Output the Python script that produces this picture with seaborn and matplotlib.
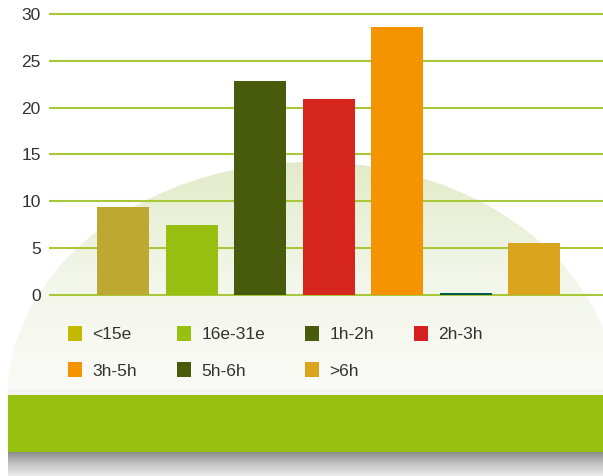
import numpy as np
import pandas as pd
import matplotlib
matplotlib.use("Agg")
import matplotlib.pyplot as plt
from matplotlib.patches import Ellipse, Rectangle, Patch
from matplotlib.colors import LinearSegmentedColormap
import seaborn as sns

# ---- data ----
categories = ["<15e", "16e-31e", "1h-2h", "2h-3h", "3h-5h", "5h-6h", ">6h"]
values = [9.4, 7.5, 22.9, 20.9, 28.6, 0.25, 5.6]
bar_colors = ["#BDA832", "#97BE10", "#485A0C", "#D6251D", "#F39400", "#00584F", "#DAA41C"]
legend_colors = ["#C4B900", "#98C010", "#485A0C", "#D62020", "#F39400", "#485A0C", "#DAA41C"]
y_ticks = [0, 5, 10, 15, 20, 25, 30]

sns.set_theme(style="white")
plt.rcParams["font.family"] = ["Liberation Sans", "DejaVu Sans"]

W, H = 603, 476
fig = plt.figure(figsize=(W / 100, H / 100), dpi=100)
fig.patch.set_facecolor("white")

# ---- background decoration ----
bg = fig.add_axes([0, 0, 1, 1], zorder=0)
bg.axis("off")

grad = np.linspace(0, 1, 256).reshape(-1, 1)
cmap_bg = LinearSegmentedColormap.from_list("bgc", ["#E2EBC8", "#F3F6EA", "#FBFBF8"])
img = bg.imshow(grad, extent=[0, W, 400, 160], aspect="auto", cmap=cmap_bg, zorder=1)
ell = Ellipse((312, 400), 2 * 305, 2 * 238, transform=bg.transData, facecolor="none", edgecolor="none")
bg.add_patch(ell)
img.set_clip_path(ell)

# light fade above the green band
bg.add_patch(Rectangle((8, 389), W - 8, 7, facecolor="#F4F4F2", edgecolor="none", zorder=2))

# shadow below green band
cmap_sh = LinearSegmentedColormap.from_list("sh", ["#8C8C8C", "#C4C4C4", "#EBEBEB"])
bg.imshow(grad, extent=[8, W, 476, 452], aspect="auto", cmap=cmap_sh, zorder=2)
bg.add_patch(Rectangle((8, 395), W - 8, 57, facecolor="#97BF0F", edgecolor="none", zorder=3))
bg.set_xlim(0, W)
bg.set_ylim(H, 0)

# ---- main bar axes ----
left_px, right_px = 49, 603
ylo, yhi = -0.25, 30.3
ppu = 281 / 30.0
bot_px = 295 + (0 - ylo) * ppu
top_px = 14 - (yhi - 30) * ppu
ax = fig.add_axes([left_px / W, 1 - bot_px / H, (right_px - left_px) / W, (bot_px - top_px) / H], zorder=1)
ax.patch.set_alpha(0)

df = pd.DataFrame({"category": categories, "value": values})
sns.barplot(data=df, x="category", y="value", hue="category", palette=bar_colors,
            order=categories, hue_order=categories, width=0.76, legend=False,
            saturation=1, ax=ax, zorder=3, edgecolor="none", linewidth=0)

ax.set_xlim(-1.08, 7.0)
ax.set_ylim(ylo, yhi)
ax.set_yticks(y_ticks)
ax.set_yticklabels([str(t) for t in y_ticks], fontsize=12.5, color="#333333")
ax.set_xticks([])
ax.set_xlabel("")
ax.set_ylabel("")
ax.tick_params(axis="y", length=0, pad=6)
for s in ax.spines.values():
    s.set_visible(False)
ax.yaxis.grid(True, color="#A8C83A", linewidth=1.5)
ax.set_axisbelow(True)

# ---- legend (row-wise order for 4 columns) ----
handles = [Patch(facecolor=c, edgecolor="none", label=l) for c, l in zip(legend_colors, categories)]
order = [0, 4, 1, 5, 2, 6, 3]
handles = [handles[i] for i in order]
fig.legend(handles=handles, ncol=4, loc="upper left",
           bbox_to_anchor=(68 / W, 1 - 326 / H), frameon=False,
           fontsize=12.5, handlelength=0.8, handleheight=0.92, handletextpad=0.6,
           columnspacing=2.3, labelspacing=1.15, borderpad=0, borderaxespad=0,
           labelcolor="#333333")

fig.savefig("out.png", dpi=100)
